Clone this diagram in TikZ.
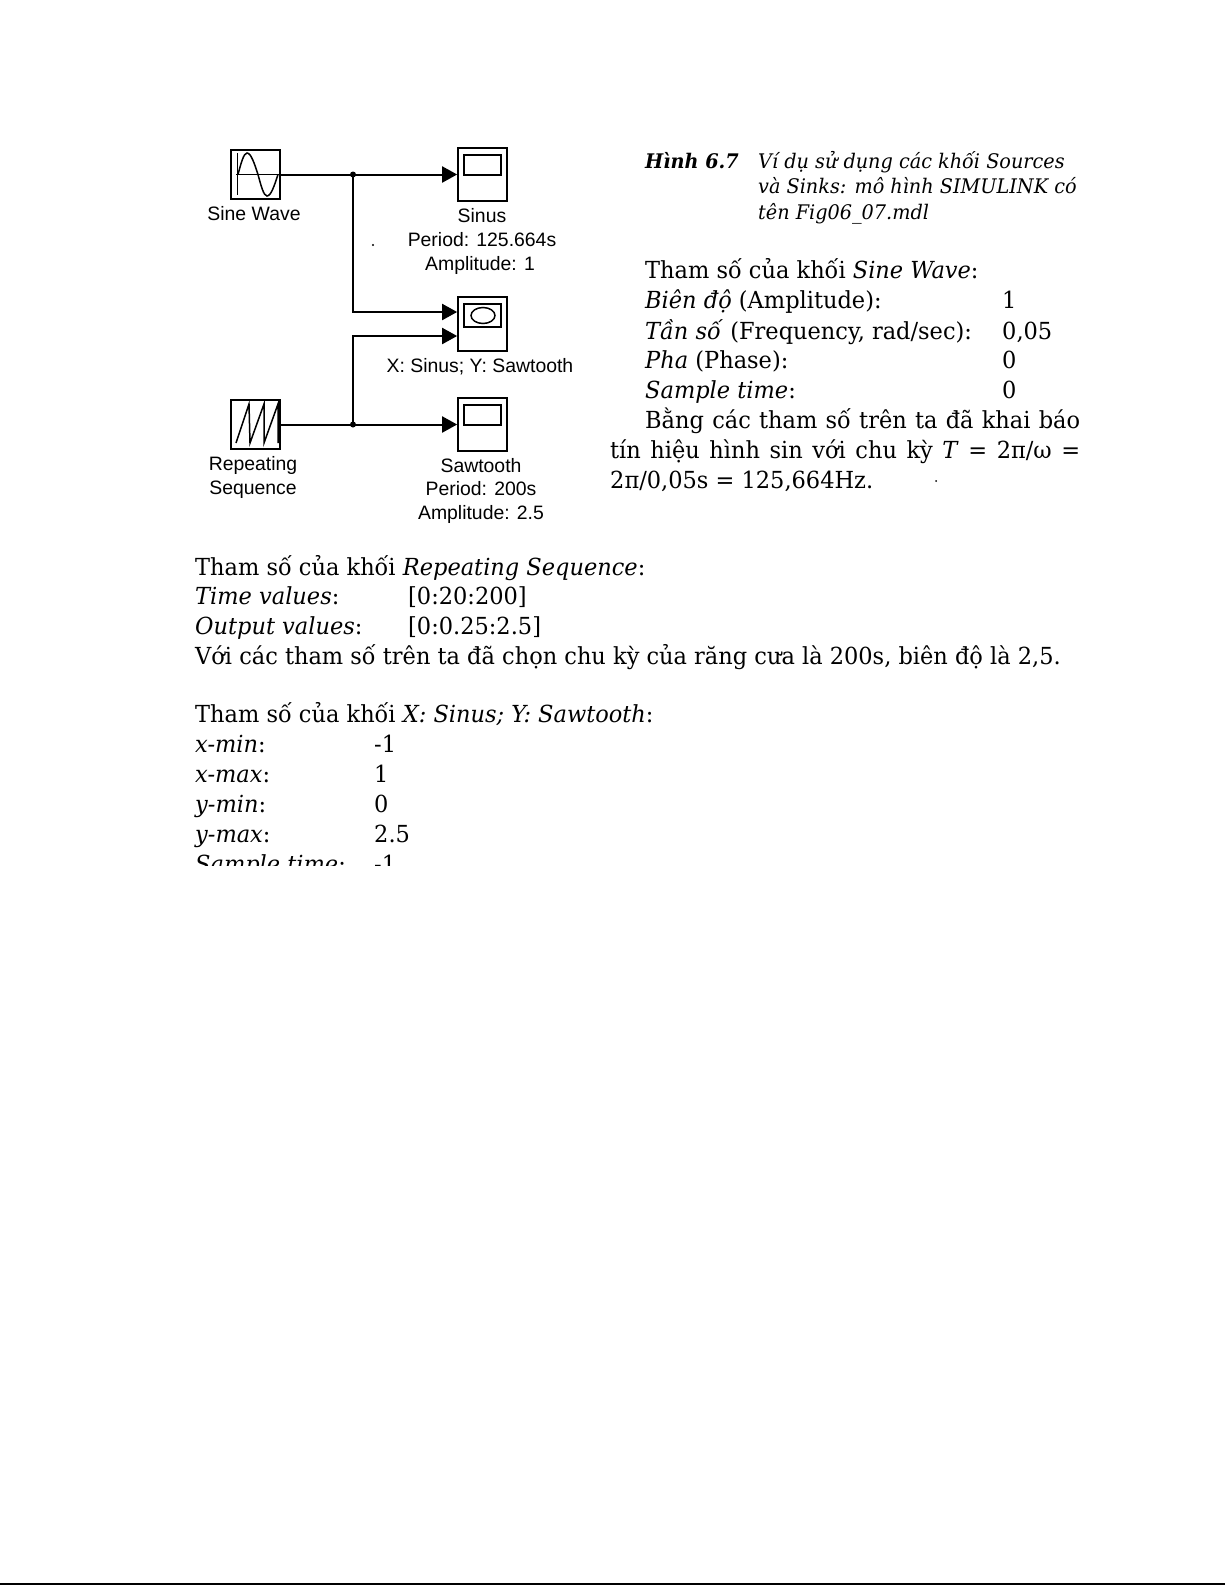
\documentclass[tikz,border=0pt]{standalone}
\usepackage{fontspec}
\usetikzlibrary{arrows.meta}
\setmainfont{Liberation Sans}
\newfontfamily\bodyf[FakeStretch=0.957]{DejaVu Serif}
\tikzset{
  x=1pt,y=-1pt,
  wire/.style={line width=2pt,black},
  arr/.style={wire,-{Triangle[length=15pt,width=16pt]}},
  block/.style={draw=black,line width=1.7pt,inner sep=0pt,fill=white},
  srcbox/.style={block,minimum width=49pt,minimum height=49pt},
  scopebox/.style={block,minimum width=49pt,minimum height=53pt},
  screen/.style={draw=black,line width=1.6pt},
  icon/.style={draw=black,line width=1.5pt},
  lab/.style={inner sep=0pt,anchor=base,font=\fontsize{19.4}{19.4}\selectfont},
  bt/.style={inner sep=0pt,anchor=base west,font=\bodyf\fontsize{23.5}{23.5}\selectfont},
  captxt/.style={inner sep=0pt,anchor=base west,font=\bodyf\fontsize{20.1}{20.1}\selectfont\itshape},
  dotj/.style={circle,fill=black,inner sep=0pt,minimum size=6pt},
  speck/.style={fill=black}
}
\begin{document}
\begin{tikzpicture}
\useasboundingbox (0,0) rectangle (1225,1585);
\fill[white] (0,0) rectangle (1225,1585);
% blocks
\node[srcbox] (sine) at (255.5,174.5) {};
\node[srcbox] (rep) at (255.5,424.5) {};
\node[scopebox] (sinus) at (482.5,174.5) {};
\node[scopebox,minimum height=54pt] (xy) at (482.5,324) {};
\node[scopebox] (saw) at (482.5,424.5) {};
% icons
\draw[screen] (464,155) rectangle (501,175);
\draw[screen] (464,304) rectangle (501,327);
\draw[icon] (483,315.5) ellipse [x radius=12,y radius=8];
\draw[screen] (464,405) rectangle (501,425);
\draw[icon] (237.5,153) -- (237.5,195);
\draw[icon] (236,174.5) -- (279,174.5);
\draw[icon] (238,174.5) sin (247,153) cos (258,174.5) sin (267,196) cos (278,174.5);
\draw[icon] (236,443) -- (249,404) -- (250,443) -- (264,404) -- (264,443) -- (278,404) -- (278,443);
% junctions
\coordinate (xyA) at (xy.west |- 0,312);
\coordinate (xyB) at (xy.west |- 0,336);
\node[dotj] (j1) at (353,174.5) {};
\node[dotj] (j2) at (353,424.5) {};
% connectors
\draw[wire] (sine.east) -- (j1.center);
\draw[arr] (j1.center) -- (sinus.west);
\draw[arr] (j1.center) |- (xyA);
\draw[wire] (rep.east) -- (j2.center);
\draw[arr] (j2.center) -- (saw.west);
\draw[arr] (j2.center) |- (xyB);
% block labels
\node[lab] (l1) at (254,220) {Sine Wave};
\node[lab] (l2) at (482,222) {Sinus};
\node[lab] (l3) at (482,246) {Period: 125.664s};
\node[lab] (l4) at (480,270) {Amplitude: 1};
\node[lab] (l5) at (480,372) {X: Sinus; Y: Sawtooth};
\node[lab] (l6) at (253,470) {Repeating};
\node[lab] (l7) at (253,494) {Sequence};
\node[lab] (l8) at (481,472) {Sawtooth};
\node[lab] (l9) at (481,495) {Period: 200s};
\node[lab] (l10) at (481,519) {Amplitude: 2.5};
% caption
\node[captxt,font=\bodyf\fontsize{20.1}{20.1}\selectfont\bfseries\itshape] (c0) at (645,168) {Hình 6.7};
\node[captxt] (c1) at (758,168) {Ví dụ sử dụng các khối Sources};
\node[captxt] (c2) at (758,193) {và Sinks: mô hình SIMULINK có};
\node[captxt] (c3) at (758,219) {tên Fig06\_07.mdl};
% right text
\node[bt] (r1) at (645,278) {Tham số của khối \textit{Sine Wave}:};
\node[bt] (r2) at (645,308) {\textit{Biên độ} (Amplitude):};
\node[bt] (r3) at (645,339) {\textit{Tần số} (Frequency, rad/sec):};
\node[bt] (r4) at (645,368) {\textit{Pha} (Phase):};
\node[bt] (r5) at (645,398) {\textit{Sample time}:};
\node[bt] (v2) at (1002,308) {1};
\node[bt] (v3) at (1002,339) {0,05};
\node[bt] (v4) at (1002,368) {0};
\node[bt] (v5) at (1002,398) {0};
\node[bt] (r6) at (645,428) {\makebox[435pt][s]{Bằng các tham số trên ta đã khai báo}};
\node[bt] (r7) at (610,458) {\makebox[470pt][s]{tín hiệu hình sin với chu kỳ \textit{T} = 2π/ω =}};
\node[bt] (r8) at (610,488) {2π/0,05s = 125,664Hz.};
% lower text
\node[bt] (b1) at (195,575) {Tham số của khối \textit{Repeating Sequence}:};
\node[bt] (b2) at (195,604) {\textit{Time values}:};
\node[bt] (b2v) at (408,604) {[0:20:200]};
\node[bt] (b3) at (195,634) {\textit{Output values}:};
\node[bt] (b3v) at (408,634) {[0:0.25:2.5]};
\node[bt] (b4) at (195,664) {Với các tham số trên ta đã chọn chu kỳ của răng cưa là 200s, biên độ là 2,5.};
\node[bt] (b5) at (195,722) {Tham số của khối \textit{X: Sinus; Y: Sawtooth}:};
\node[bt] (b6) at (195,752) {\textit{x-min}:};
\node[bt] (b6v) at (374,752) {-1};
\node[bt] (b7) at (195,782) {\textit{x-max}:};
\node[bt] (b7v) at (374,782) {1};
\node[bt] (b8) at (195,812) {\textit{y-min}:};
\node[bt] (b8v) at (374,812) {0};
\node[bt] (b9) at (195,842) {\textit{y-max}:};
\node[bt] (b9v) at (374,842) {2.5};
\begin{scope}
\clip (150,845) rectangle (700,865);
\node[bt] (b10) at (195,872) {\textit{Sample time}:};
\node[bt] (b10v) at (374,872) {-1};
\end{scope}
% specks and page edge
\fill[speck] (373,245) circle (1.2);
\fill[speck] (936,481) circle (1);
\fill[black] (0,1583) rectangle (1225,1585);
\end{tikzpicture}
\end{document}
